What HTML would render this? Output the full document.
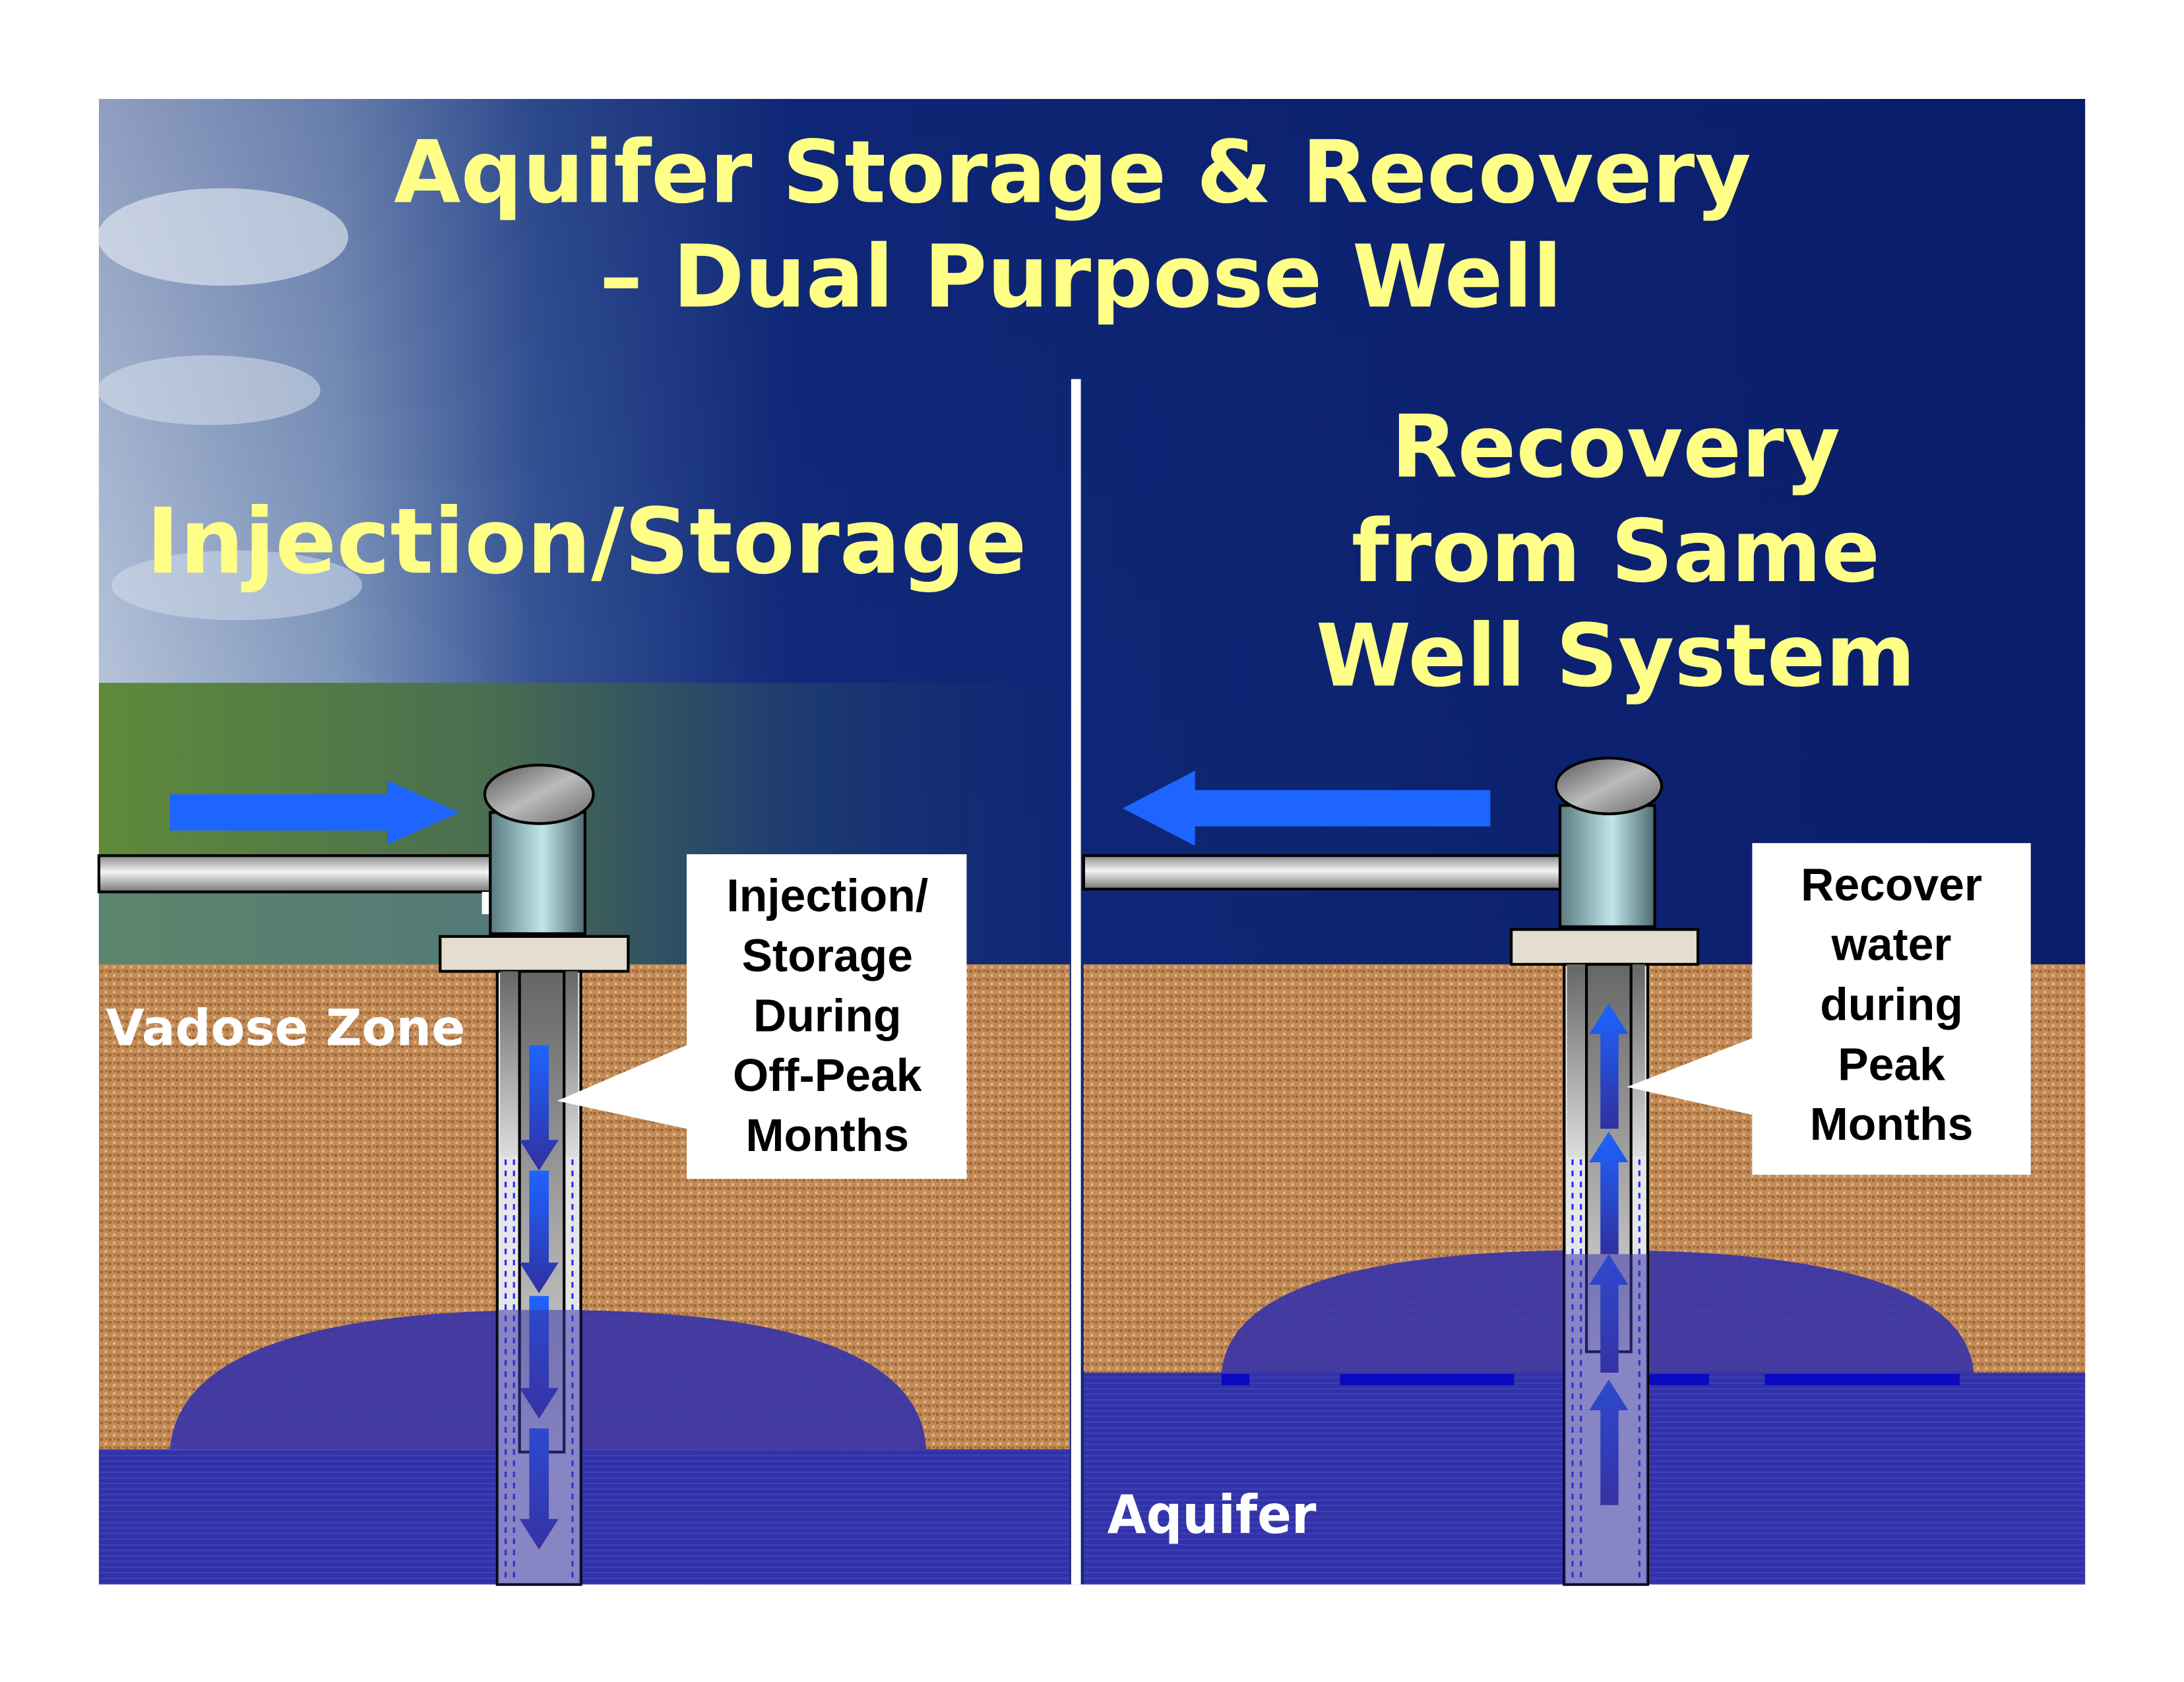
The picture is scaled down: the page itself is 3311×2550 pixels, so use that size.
<!DOCTYPE html>
<html><head><meta charset="utf-8"><style>
html,body{margin:0;padding:0;background:#fff;}
svg{display:block;}
text{font-family:"DejaVu Sans","Liberation Sans",sans-serif;font-weight:bold;}
text.ca{font-family:"Liberation Sans",sans-serif;}
</style></head><body>
<svg width="3311" height="2550" viewBox="0 0 1568 1207" preserveAspectRatio="none" xmlns="http://www.w3.org/2000/svg">
<defs>
<linearGradient id="sky" x1="0" y1="0" x2="1" y2="0">
<stop offset="0" stop-color="#c9d6e6"/><stop offset="0.12" stop-color="#8ea6c6"/>
<stop offset="0.22" stop-color="#3a5a9a"/><stop offset="0.35" stop-color="#102a7a"/>
<stop offset="1" stop-color="#0a1d6a"/></linearGradient>
<linearGradient id="skyv" x1="0" y1="0" x2="0" y2="1">
<stop offset="0" stop-color="#0a1d6a" stop-opacity="0.3"/><stop offset="0.6" stop-color="#0a1d6a" stop-opacity="0"/></linearGradient>
<linearGradient id="land" x1="0" y1="0" x2="1" y2="0">
<stop offset="0" stop-color="#5f8a3a"/><stop offset="0.4" stop-color="#4a6e50"/><stop offset="0.7" stop-color="#1e3d70"/><stop offset="1" stop-color="#142e70" stop-opacity="0"/></linearGradient>
<pattern id="soil" width="6" height="6" patternUnits="userSpaceOnUse">
<rect width="6" height="6" fill="#c28a55"/><rect x="0" y="0" width="2" height="2" fill="#9a643a"/><rect x="3" y="3" width="2" height="2" fill="#e0b080"/><rect x="4" y="0" width="1" height="1" fill="#7e4e28"/></pattern>
<pattern id="water" width="4" height="4" patternUnits="userSpaceOnUse">
<rect width="4" height="4" fill="#3232a8"/><rect width="4" height="1" fill="#4040b8"/></pattern>
<linearGradient id="pipe" x1="0" y1="0" x2="0" y2="1"><stop offset="0" stop-color="#888"/><stop offset="0.45" stop-color="#f4f4f4"/><stop offset="1" stop-color="#777"/></linearGradient>
<linearGradient id="cyl" x1="0" y1="0" x2="1" y2="0"><stop offset="0" stop-color="#5a7a80"/><stop offset="0.55" stop-color="#bfe6ea"/><stop offset="1" stop-color="#4d6a70"/></linearGradient>
<linearGradient id="cap" x1="0" y1="0" x2="1" y2="1"><stop offset="0" stop-color="#555"/><stop offset="0.5" stop-color="#bbb"/><stop offset="1" stop-color="#666"/></linearGradient>
<linearGradient id="cas" x1="0" y1="0" x2="0" y2="1"><stop offset="0" stop-color="#666"/><stop offset="1" stop-color="#ddd"/></linearGradient>
<linearGradient id="arrd" x1="0" y1="0" x2="0" y2="1"><stop offset="0" stop-color="#1e64ff"/><stop offset="1" stop-color="#3030a0"/></linearGradient>
<linearGradient id="arru" x1="0" y1="1" x2="0" y2="0"><stop offset="0" stop-color="#3030a0"/><stop offset="1" stop-color="#1e64ff"/></linearGradient>
</defs>
<rect width="1568" height="1207" fill="#fff"/>
<rect x="71" y="71" width="1426" height="1066" fill="url(#sky)"/>
<rect x="71" y="71" width="1426" height="1066" fill="url(#skyv)"/>
<ellipse cx="160" cy="170" rx="90" ry="35" fill="#e8eef5" opacity="0.6"/>
<ellipse cx="150" cy="280" rx="80" ry="25" fill="#dde6f0" opacity="0.5"/>
<ellipse cx="170" cy="420" rx="90" ry="25" fill="#d6e0ec" opacity="0.5"/>
<rect x="71" y="490" width="700" height="202" fill="url(#land)"/>
<rect x="71" y="640" width="300" height="52" fill="#5a8290" opacity="0.6"/>
<rect x="71" y="692" width="697" height="348" fill="url(#soil)"/>
<path d="M122 1040 Q130 940 395 940 Q660 940 665 1040 Z" fill="#3a34a8" opacity="0.92"/>
<rect x="71" y="1040" width="697" height="97" fill="url(#water)"/>
<rect x="778" y="692" width="719" height="293" fill="url(#soil)"/>
<path d="M877 985 Q885 897 1147 897 Q1410 897 1417 985 Z" fill="#3a34a8" opacity="0.92"/>
<rect x="778" y="985" width="719" height="152" fill="url(#water)"/>
<line x1="877" y1="990" x2="1417" y2="990" stroke="#0a0ac0" stroke-width="8" stroke-dasharray="20,65,125,50,90,40,140,40,100,0"/>
<rect x="769" y="272" width="7" height="865" fill="#fff"/>
<g fill="#ffff88" text-anchor="middle" font-size="62">
<text x="770" y="145">Aquifer Storage &amp; Recovery</text>
<text x="776" y="220">– Dual Purpose Well</text>
<text x="421" y="411" font-size="65">Injection/Storage</text>
<text x="1160" y="342">Recovery</text>
<text x="1160" y="417">from Same</text>
<text x="1160" y="492">Well System</text>
</g>
<text x="76" y="750" fill="#fff" font-size="36" textLength="258" lengthAdjust="spacingAndGlyphs">Vadose Zone</text>
<text x="795" y="1100" fill="#fff" font-size="38" textLength="150" lengthAdjust="spacingAndGlyphs">Aquifer</text>
<polygon points="122,570 278,570 278,560 330,583 278,606 278,596 122,596" fill="#1e64ff"/>
<rect x="71" y="614" width="281" height="26" fill="url(#pipe)" stroke="#000" stroke-width="2"/>
<rect x="346" y="640" width="6" height="16" fill="#fff"/>
<rect x="352" y="583" width="68" height="87" fill="url(#cyl)" stroke="#000" stroke-width="2"/>
<ellipse cx="387" cy="570" rx="39" ry="21" fill="url(#cap)" stroke="#000" stroke-width="2"/>
<rect x="316" y="672" width="135" height="25" fill="#e4ddd0" stroke="#000" stroke-width="2"/>
<rect x="357" y="697" width="60" height="440" fill="#e6e6e6" stroke="#000" stroke-width="2"/>
<rect x="359" y="697" width="56" height="133" fill="url(#cas)"/>
<rect x="373" y="697" width="32" height="345" fill="url(#cas)" stroke="#000" stroke-width="2"/>
<line x1="363" y1="832" x2="363" y2="1135" stroke="#2a2aff" stroke-width="1.5" stroke-dasharray="4,4"/>
<line x1="369" y1="832" x2="369" y2="1135" stroke="#2a2aff" stroke-width="1.5" stroke-dasharray="4,4"/>
<line x1="411" y1="832" x2="411" y2="1135" stroke="#2a2aff" stroke-width="1.5" stroke-dasharray="4,4"/>
<polygon points="380,750 394,750 394,818 401,818 387,840 373,818 380,818" fill="url(#arrd)"/>
<polygon points="380,840 394,840 394,906 401,906 387,928 373,906 380,906" fill="url(#arrd)"/>
<polygon points="380,930 394,930 394,996 401,996 387,1018 373,996 380,996" fill="url(#arrd)"/>
<polygon points="380,1025 394,1025 394,1090 401,1090 387,1112 373,1090 380,1090" fill="url(#arrd)"/>
<path d="M357 940 L417 940 L417 1137 L357 1137 Z" fill="#3a34a8" opacity="0.55"/>
<polygon points="400,790 493,750 493,810" fill="#fff"/>
<rect x="493" y="613" width="201" height="233" fill="#fff"/>
<g font-size="33" text-anchor="middle" fill="#000">
<text class="ca" x="594" y="654">Injection/</text><text class="ca" x="594" y="697">Storage</text><text class="ca" x="594" y="740">During</text><text class="ca" x="594" y="783">Off-Peak</text><text class="ca" x="594" y="826">Months</text>
</g>
<polygon points="1070,567 858,567 858,553 806,580 858,607 858,593 1070,593" fill="#1e64ff"/>
<rect x="778" y="614" width="344" height="24" fill="url(#pipe)" stroke="#000" stroke-width="2"/>
<rect x="1120" y="578" width="68" height="87" fill="url(#cyl)" stroke="#000" stroke-width="2"/>
<ellipse cx="1155" cy="564" rx="38" ry="20" fill="url(#cap)" stroke="#000" stroke-width="2"/>
<rect x="1085" y="667" width="134" height="25" fill="#e4ddd0" stroke="#000" stroke-width="2"/>
<rect x="1123" y="692" width="60" height="445" fill="#e6e6e6" stroke="#000" stroke-width="2"/>
<rect x="1125" y="692" width="56" height="138" fill="url(#cas)"/>
<rect x="1139" y="692" width="32" height="278" fill="url(#cas)" stroke="#000" stroke-width="2"/>
<line x1="1129" y1="832" x2="1129" y2="1135" stroke="#2a2aff" stroke-width="1.5" stroke-dasharray="4,4"/>
<line x1="1135" y1="832" x2="1135" y2="1135" stroke="#2a2aff" stroke-width="1.5" stroke-dasharray="4,4"/>
<line x1="1177" y1="832" x2="1177" y2="1135" stroke="#2a2aff" stroke-width="1.5" stroke-dasharray="4,4"/>
<polygon points="1149,810 1162,810 1162,742 1169,742 1155,720 1141,742 1149,742" fill="url(#arru)"/>
<polygon points="1149,900 1162,900 1162,834 1169,834 1155,812 1141,834 1149,834" fill="url(#arru)"/>
<polygon points="1149,985 1162,985 1162,922 1169,922 1155,900 1141,922 1149,922" fill="url(#arru)"/>
<polygon points="1149,1080 1162,1080 1162,1012 1169,1012 1155,990 1141,1012 1149,1012" fill="url(#arru)"/>
<path d="M1123 900 L1183 900 L1183 1137 L1123 1137 Z" fill="#3a34a8" opacity="0.55"/>
<polygon points="1168,780 1258,745 1258,800" fill="#fff"/>
<rect x="1258" y="605" width="200" height="238" fill="#fff"/>
<g font-size="33" text-anchor="middle" fill="#000">
<text class="ca" x="1358" y="646">Recover</text><text class="ca" x="1358" y="689">water</text><text class="ca" x="1358" y="732">during</text><text class="ca" x="1358" y="775">Peak</text><text class="ca" x="1358" y="818">Months</text>
</g>
</svg>
</body></html>
